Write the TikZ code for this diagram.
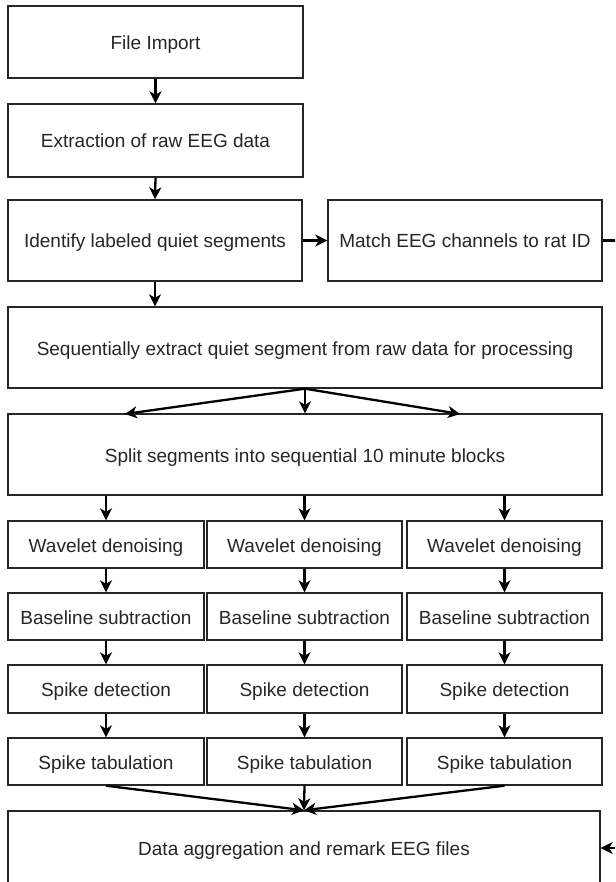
\documentclass[tikz,border=0pt]{standalone}
\usepackage{fontspec}
\setmainfont{Liberation Sans}
\usetikzlibrary{arrows.meta}
\tikzset{
  box/.style={draw=black!85, line width=1.4pt, inner sep=0pt, text=black!85,
    font=\fontsize{19}{23}\selectfont, align=center, text height=17pt, text depth=2pt},
  arr/.style={draw=black, line width=2.3pt, -{Stealth[length=12pt,width=12pt,inset=3.5pt]}},
}
\begin{document}
\begin{tikzpicture}[x=1pt,y=-1pt]
\useasboundingbox (0,0) rectangle (615,882);
\clip (0,0) rectangle (615,882);
\fill[white] (0,0) rectangle (615,882);
\node[box, minimum width=295pt, minimum height=72pt] (imp) at (155.5,42) {File Import};
\node[box, minimum width=295pt, minimum height=73pt] (ext) at (155.5,140.5) {Extraction of raw EEG data};
\node[box, minimum width=294pt, minimum height=81pt] (idf) at (155,240.5) {Identify labeled quiet segments};
\node[box, minimum width=274pt, minimum height=81pt] (mat) at (465,240.5) {Match EEG channels to rat ID};
\node[box, minimum width=594pt, minimum height=81pt] (seq) at (305,347.5) {Sequentially extract quiet segment from raw data for processing};
\node[box, minimum width=594pt, minimum height=81pt] (spl) at (305,454.5) {Split segments into sequential 10 minute blocks};
\foreach \i/\x/\w in {1/106/196, 2/304.5/195, 3/504.5/195}{
  \node[box, minimum width=\w pt, minimum height=47pt] (wav\i) at (\x,544.5) {Wavelet denoising};
  \node[box, minimum width=\w pt, minimum height=47pt] (bas\i) at (\x,616.5) {Baseline subtraction};
  \node[box, minimum width=\w pt, minimum height=48pt] (det\i) at (\x,689) {Spike detection};
  \node[box, minimum width=\w pt, minimum height=47pt] (tab\i) at (\x,761.5) {Spike tabulation};
}
\node[box, minimum width=592pt, minimum height=74pt] (agg) at (304,848) {Data aggregation and remark EEG files};
\coordinate (fl) at (125,414);
\coordinate (fr) at (460,414);
\draw[arr] (imp.south) -- (ext.north);
\draw[arr] (ext.south) -- (idf.north);
\draw[arr] (idf.east) -- (mat.west);
\draw[arr] (idf.south) -- (seq.north -| idf.south);
\draw[arr] (seq.south) -- (fl);
\draw[arr] (seq.south) -- (spl.north);
\draw[arr] (seq.south) -- (fr);
\foreach \i in {1,2,3}{
  \draw[arr] (spl.south -| wav\i.north) -- (wav\i.north);
  \draw[arr] (wav\i.south) -- (bas\i.north);
  \draw[arr] (bas\i.south) -- (det\i.north);
  \draw[arr] (det\i.south) -- (tab\i.north);
  \draw[arr] (tab\i.south) -- (agg.north);
}
\draw[arr] (mat.east) -- ++(30,0) |- (agg.east);
\end{tikzpicture}
\end{document}
